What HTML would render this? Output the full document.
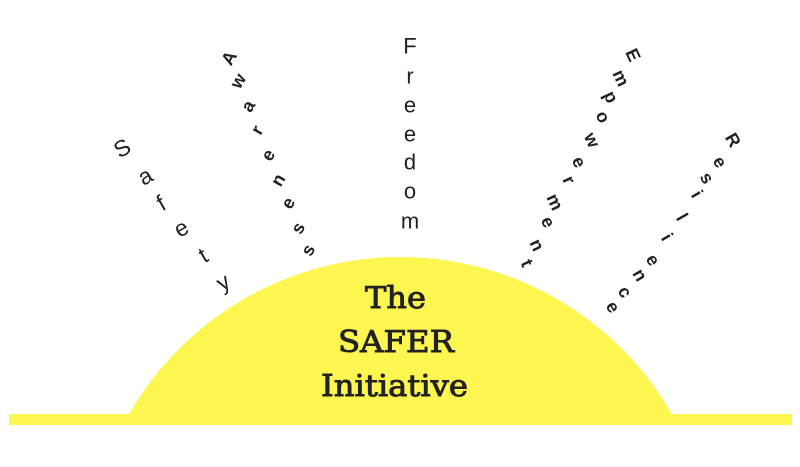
<!DOCTYPE html>
<html><head><meta charset="utf-8"><style>
html,body{margin:0;padding:0;background:#fff;width:800px;height:467px;overflow:hidden;position:relative;}
svg{display:block;position:absolute;left:0;top:0;overflow:hidden;}
.r{font-family:"Liberation Sans",sans-serif;font-size:20px;fill:#222;}
.b{font-weight:bold;}
.t{font-family:"DejaVu Serif","Liberation Serif",serif;font-size:30px;fill:#222;stroke:#222;stroke-width:0.9;}
</style></head><body>
<svg width="800" height="467" viewBox="0 0 800 467" xmlns="http://www.w3.org/2000/svg">
<defs><clipPath id="c"><rect x="0" y="0" width="800" height="415"/></clipPath></defs>
<circle cx="400.5" cy="570" r="313" fill="#fdf650" clip-path="url(#c)"/>
<rect x="9" y="414" width="783" height="11" fill="#fdf650"/>
<text class="t" x="365" y="308" textLength="61" lengthAdjust="spacingAndGlyphs">The</text>
<text class="t" x="338" y="352" textLength="116" lengthAdjust="spacingAndGlyphs">SAFER</text>
<text class="t" x="321" y="396" textLength="147" lengthAdjust="spacingAndGlyphs">Initiative</text>
<g class="r" text-anchor="middle" dominant-baseline="central">
<g style="font-size:23px">
<text transform="translate(122,148) rotate(-30)">S</text>
<text transform="translate(145,176) rotate(-30)">a</text>
<text transform="translate(161,203) rotate(-30)">f</text>
<text transform="translate(181,228) rotate(-30)">e</text>
<text transform="translate(203,255) rotate(-30)">t</text>
<text transform="translate(223,282) rotate(-30)">y</text>
</g>
<g style="font-size:22px">
<text x="410" y="46">F</text>
<text x="410" y="76">r</text>
<text x="410" y="105">e</text>
<text x="410" y="134">e</text>
<text x="410" y="162">d</text>
<text x="410" y="191">o</text>
<text x="410" y="221">m</text>
</g>
</g>
<g class="r b" text-anchor="middle" dominant-baseline="central" style="font-size:18px">
<text transform="translate(229,58) rotate(-60)">A</text>
<text transform="translate(238,81) rotate(-60)">w</text>
<text transform="translate(248,106) rotate(-60)">a</text>
<text transform="translate(257,130) rotate(-60)">r</text>
<text transform="translate(268,155) rotate(-60)">e</text>
<text transform="translate(278,180) rotate(-60)">n</text>
<text transform="translate(288,203) rotate(-60)">e</text>
<text transform="translate(298,228) rotate(-60)">s</text>
<text transform="translate(308,250) rotate(-60)">s</text>
<text transform="translate(633,55) rotate(65)">E</text>
<text transform="translate(621,78) rotate(65)">m</text>
<text transform="translate(611,97) rotate(65)">p</text>
<text transform="translate(603,117) rotate(65)">o</text>
<text transform="translate(592,140) rotate(65)">w</text>
<text transform="translate(579,162) rotate(65)">e</text>
<text transform="translate(569,180) rotate(65)">r</text>
<text transform="translate(555,202) rotate(65)">m</text>
<text transform="translate(548,222) rotate(65)">e</text>
<text transform="translate(537,245) rotate(65)">n</text>
<text transform="translate(527,263) rotate(65)">t</text>
<text transform="translate(733,140) rotate(60)">R</text>
<text transform="translate(720,162) rotate(60)">e</text>
<text transform="translate(707,178) rotate(60)">s</text>
<text transform="translate(697,194) rotate(60)">i</text>
<text transform="translate(682,217) rotate(60)">l</text>
<text transform="translate(667,237) rotate(60)">i</text>
<text transform="translate(653,260) rotate(60)">e</text>
<text transform="translate(640,275) rotate(60)">n</text>
<text transform="translate(625,292) rotate(60)">c</text>
<text transform="translate(613,307) rotate(60)">e</text>
</g>
</svg>
</body></html>
